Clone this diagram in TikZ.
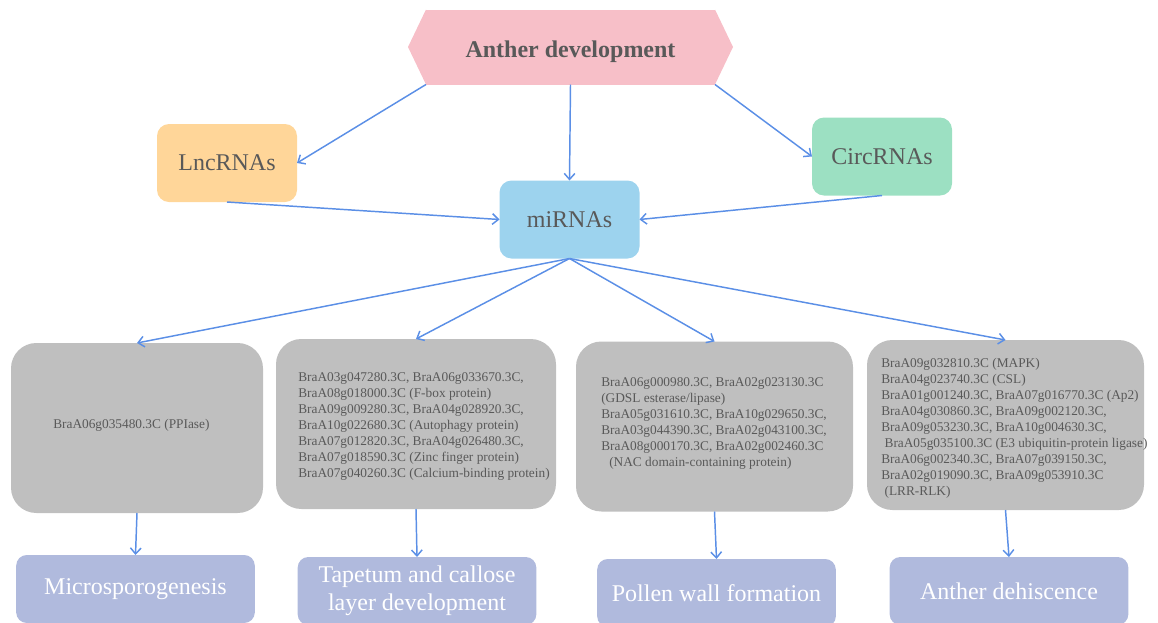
\documentclass[tikz,border=0pt]{standalone}
\usepackage{fontspec}
\setmainfont{Liberation Serif}
\usetikzlibrary{arrows.meta}
\definecolor{titlepink}{HTML}{F7BFC8}
\definecolor{lncorange}{HTML}{FFD699}
\definecolor{mirblue}{HTML}{9DD3EE}
\definecolor{circgreen}{HTML}{9CE0C2}
\definecolor{genegrey}{HTML}{BFBFBF}
\definecolor{stagepurple}{HTML}{B0BADD}
\definecolor{arrowblue}{HTML}{5B8FE6}
\definecolor{textgrey}{HTML}{595959}
\begin{document}
\begin{tikzpicture}[x=0.75pt,y=-0.75pt]
\tikzstyle{rnabox}=[rectangle,rounded corners=9pt,minimum width=105pt,minimum height=58.5pt,inner sep=2pt,outer sep=0pt,text=textgrey,font=\fontsize{18pt}{21pt}\selectfont]
\tikzstyle{genebox}=[rectangle,rounded corners=19pt,fill=genegrey,minimum height=127.5pt,outer sep=0pt]
\tikzstyle{genelist}=[anchor=west,inner sep=0pt,align=left,text=textgrey,font=\fontsize{10pt}{12pt}\selectfont]
\tikzstyle{stagebox}=[rectangle,rounded corners=8pt,fill=stagepurple,minimum width=179pt,minimum height=51pt,inner sep=2pt,outer sep=0pt,align=center,text=white,font=\fontsize{18pt}{21pt}\selectfont]
\tikzstyle{arr}=[->,>={Straight Barb[length=4.5pt,width=8pt]},line width=1.1pt,draw=arrowblue]
\useasboundingbox (0,0) rectangle (1158,622);
\clip (0,0) rectangle (1158,622);
% hexagon head: flat part is the node, the two points are filled on
\node[rectangle,fill=titlepink,minimum width=216.75pt,minimum height=56.25pt,outer sep=0pt,text height=15.8pt,text depth=0pt,text=textgrey,font=\fontsize{18pt}{21pt}\selectfont\bfseries] (title) at (570.5,47) {Anther development};
\fill[titlepink] (title.north west) -- ++(-18,37.5) -- (title.south west) -- cycle;
\fill[titlepink] (title.north east) -- ++(18,37.5) -- (title.south east) -- cycle;
\node[rnabox,fill=lncorange] (lnc) at (227,163) {LncRNAs};
\node[rnabox,fill=mirblue] (mirna) at (569.5,219.5) {miRNAs};
\node[rnabox,fill=circgreen] (circ) at (882,156.5) {CircRNAs};
\node[genebox,minimum width=189pt] (genes1) at (137,428) {};
\node[genebox,minimum width=210pt] (genes2) at (416,424) {};
\node[genebox,minimum width=207.75pt] (genes3) at (714.5,426.5) {};
\node[genebox,minimum width=207.75pt] (genes4) at (1005.5,425) {};
\node[genelist] (list1) at (53,425) {BraA06g035480.3C (PPIase)};
\node[genelist] (list2) at (298,426) {BraA03g047280.3C, BraA06g033670.3C,\\BraA08g018000.3C (F-box protein)\\BraA09g009280.3C, BraA04g028920.3C,\\BraA10g022680.3C (Autophagy protein)\\BraA07g012820.3C, BraA04g026480.3C,\\BraA07g018590.3C (Zinc finger protein)\\BraA07g040260.3C (Calcium-binding protein)};
\node[genelist] (list3) at (601,423) {BraA06g000980.3C, BraA02g023130.3C\\(GDSL esterase/lipase)\\BraA05g031610.3C, BraA10g029650.3C,\\BraA03g044390.3C, BraA02g043100.3C,\\BraA08g000170.3C, BraA02g002460.3C\\\hspace{6pt}(NAC domain-containing protein)};
\node[genelist] (list4) at (881,428) {BraA09g032810.3C (MAPK)\\BraA04g023740.3C (CSL)\\BraA01g001240.3C, BraA07g016770.3C (Ap2)\\BraA04g030860.3C, BraA09g002120.3C,\\BraA09g053230.3C, BraA10g004630.3C,\\\hspace{2.5pt}BraA05g035100.3C (E3 ubiquitin-protein ligase)\\BraA06g002340.3C, BraA07g039150.3C,\\BraA02g019090.3C, BraA09g053910.3C\\\hspace{2.5pt}(LRR-RLK)};
\node[stagebox] (stage1) at (135.5,589) {Microsporogenesis};
\node[stagebox] (stage2) at (417,591) {Tapetum and callose\\layer development};
\node[stagebox] (stage3) at (716.5,593) {Pollen wall formation};
\node[stagebox] (stage4) at (1009,591) {Anther dehiscence};
\draw[arr] (title.south west) -- (lnc.east);
\draw[arr] (title.south) -- (mirna.north);
\draw[arr] (title.south east) -- (circ.west);
\draw[arr] (lnc.south) -- (mirna.west);
\draw[arr] (circ.south) -- (mirna.east);
\foreach \i in {1,...,4}{
  \draw[arr] (mirna.south) -- (genes\i.north);
  \draw[arr] (genes\i.south) -- (stage\i.north);
}
\end{tikzpicture}
\end{document}
